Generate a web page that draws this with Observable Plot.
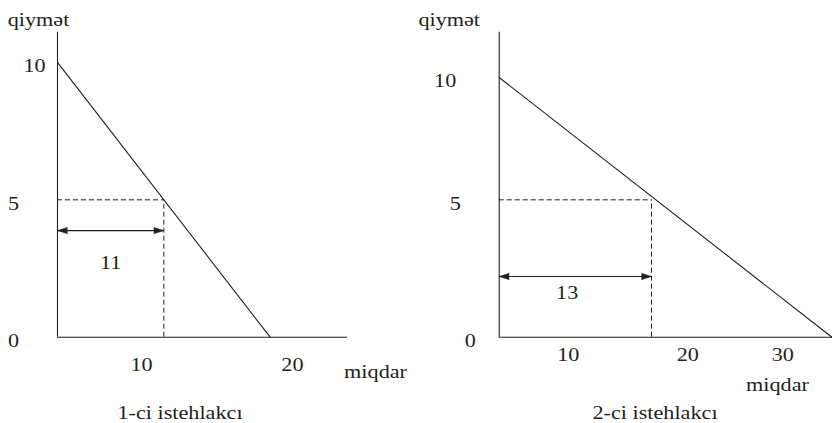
<!DOCTYPE html>
<html>
<head>
<meta charset="utf-8">
<script src="https://cdn.jsdelivr.net/npm/d3@7"></script>
<script src="https://cdn.jsdelivr.net/npm/@observablehq/plot@0.6"></script>
<style>
  body { margin: 0; background: #fff; }
  #chart { display: flex; width: 832px; height: 423px; font-family: "Liberation Serif", "Times New Roman", Times, serif; color: #231f20; }
  .panel { position: relative; width: 416px; height: 423px; }
  .panel svg { display: block; }
  .caption { position: absolute; top: 403px; line-height: 20px; font-size: 18.5px; white-space: nowrap; transform: translateX(-50%) scaleX(1.2); font-family: "Liberation Serif", "Times New Roman", Times, serif; }
</style>
</head>
<body>
<div id="chart"></div>
<script>
// ---- Data: 1-ci istehlakcı (consumer 1) ----
const demand1Q = [0, 22];          // quantity at the two ends of the demand line
const demand1P = [10, 0];          // price at the two ends of the demand line
const price1 = 5;
const qty1 = 11;
const qTicks1 = [8.7, 24.3];
const qTickLabels1 = ["10", "20"];
const pTicks1 = [10, 5, 0];
const pTickLabels1 = ["10", "5", "0"];

// ---- Data: 2-ci istehlakcı (consumer 2) ----
const demand2Q = [0, 28.4];
const demand2P = [9.45, 0];
const price2 = 5;
const qty2 = 13;
const qTicks2 = [5.9, 16.1, 24.2];
const qTickLabels2 = ["10", "20", "30"];
const pTicks2 = [9.45, 5, 0];
const pTickLabels2 = ["10", "5", "0"];

const yLabel = "qiymət";
const xLabel = "miqdar";
const captions = ["1-ci istehlakcı", "2-ci istehlakcı"];

const INK = "#231f20";
const FONT = "'Liberation Serif', 'Times New Roman', Times, serif";
const SX = 1.2; // slight horizontal stretch of the lettering, as in the reference

function panel(cfg) {
  const line = cfg.q.map((q, i) => ({q, p: cfg.p[i]}));
  const qT = cfg.qTicks.map((q, i) => ({q, label: cfg.qTickLabels[i]}));
  const pT = cfg.pTicks.map((p, i) => ({p, label: cfg.pTickLabels[i], dx: cfg.pLabelDx[i]}));
  const txt = {fontFamily: FONT, fontSize: 18.5, fill: INK};
  const svg = Plot.plot({
    width: 416,
    height: 403,
    marginLeft: cfg.marginLeft,
    marginRight: cfg.marginRight,
    marginTop: 31.7,
    marginBottom: 66.3,
    x: {domain: [0, cfg.qMax], axis: null},
    y: {domain: [0, 11.1], axis: null},
    style: {background: "#fff", color: INK, fontFamily: FONT, fontSize: "18.5px"},
    marks: [
      // axes
      Plot.ruleX([0], {y1: 0, y2: 11.1, stroke: INK, strokeWidth: 1.1}),
      Plot.ruleY([0], {x1: 0, x2: cfg.qMax, stroke: INK, strokeWidth: 1.1}),
      // dashed guides
      Plot.ruleY([cfg.price], {x1: 0, x2: cfg.qty, stroke: INK, strokeDasharray: "5,3", strokeWidth: 1}),
      Plot.ruleX([cfg.qty], {y1: 0, y2: cfg.price, stroke: INK, strokeDasharray: "5,3", strokeWidth: 1}),
      // demand line
      Plot.line(line, {x: "q", y: "p", stroke: INK, strokeWidth: 1.1}),
      // double-headed arrow for the quantity
      Plot.ruleY([cfg.arrowP], {x1: 0, x2: cfg.qty, stroke: INK, strokeWidth: 1.1}),
      Plot.vector([cfg.qty], {x: d => d, y: cfg.arrowP, rotate: 90, length: 10, r: 3.2, shape: "spike", anchor: "end", fill: INK, stroke: INK, strokeWidth: 0.5}),
      Plot.vector([0], {x: d => d, y: cfg.arrowP, rotate: -90, length: 10, r: 3.2, shape: "spike", anchor: "end", fill: INK, stroke: INK, strokeWidth: 0.5}),
      Plot.text([String(cfg.qty)], {x: cfg.qtyLabelQ, y: cfg.qtyLabelP, text: d => d, ...txt}),
      // tick labels
      Plot.text(qT, {x: "q", y: 0, text: "label", dy: cfg.qTickDy, ...txt}),
      Plot.text(pT, {x: 0, y: "p", text: "label", dy: 4, ...txt}),
      // axis titles
      Plot.text([yLabel], {x: 0, y: 11.1, text: d => d, dx: cfg.yTitleDx, dy: -12, ...txt}),
      Plot.text([xLabel], {x: cfg.xTitleQ, y: 0, text: d => d, dy: cfg.xTitleDy, ...txt})
    ]
  });
  // per-label horizontal offsets for the price labels
  const pTexts = svg.querySelectorAll("g[aria-label='text']")[2].querySelectorAll("text");
  pTexts.forEach((t, i) => {
    const tr = t.getAttribute("transform") || "";
    const m = tr.match(/translate\(([-\d.]+),([-\d.]+)\)/);
    if (m) t.setAttribute("transform", `translate(${+m[1] + pT[i].dx},${m[2]})`);
  });
  // stretch lettering horizontally around each anchor
  svg.querySelectorAll("text").forEach(t => {
    t.setAttribute("transform", (t.getAttribute("transform") || "") + ` scale(${SX},1)`);
  });
  const div = document.createElement("div");
  div.className = "panel";
  div.appendChild(svg);
  const cap = document.createElement("div");
  cap.className = "caption";
  cap.style.left = cfg.captionX + "px";
  cap.textContent = cfg.caption;
  div.appendChild(cap);
  return div;
}

const chart = document.getElementById("chart");
chart.appendChild(panel({
  q: demand1Q, p: demand1P, price: price1, qty: qty1,
  qTicks: qTicks1, qTickLabels: qTickLabels1, pTicks: pTicks1, pTickLabels: pTickLabels1,
  pLabelDx: [-23, -44, -44],
  marginLeft: 57, marginRight: 69, qMax: 30,
  arrowP: 3.88, qtyLabelQ: 5.5, qtyLabelP: 2.68,
  qTickDy: 28.3, yTitleDx: -19, xTitleQ: 32.9, xTitleDy: 35.3,
  caption: captions[0], captionX: 180
}));
chart.appendChild(panel({
  q: demand2Q, p: demand2P, price: price2, qty: qty2,
  qTicks: qTicks2, qTickLabels: qTickLabels2, pTicks: pTicks2, pTickLabels: pTickLabels2,
  pLabelDx: [-54, -44, -29],
  marginLeft: 82.7, marginRight: 0, qMax: 28.45,
  arrowP: 2.21, qtyLabelQ: 5.8, qtyLabelP: 1.59,
  qTickDy: 18.3, yTitleDx: -50, xTitleQ: 23.75, xTitleDy: 48.3,
  caption: captions[1], captionX: 239
}));
</script>
</body>
</html>
